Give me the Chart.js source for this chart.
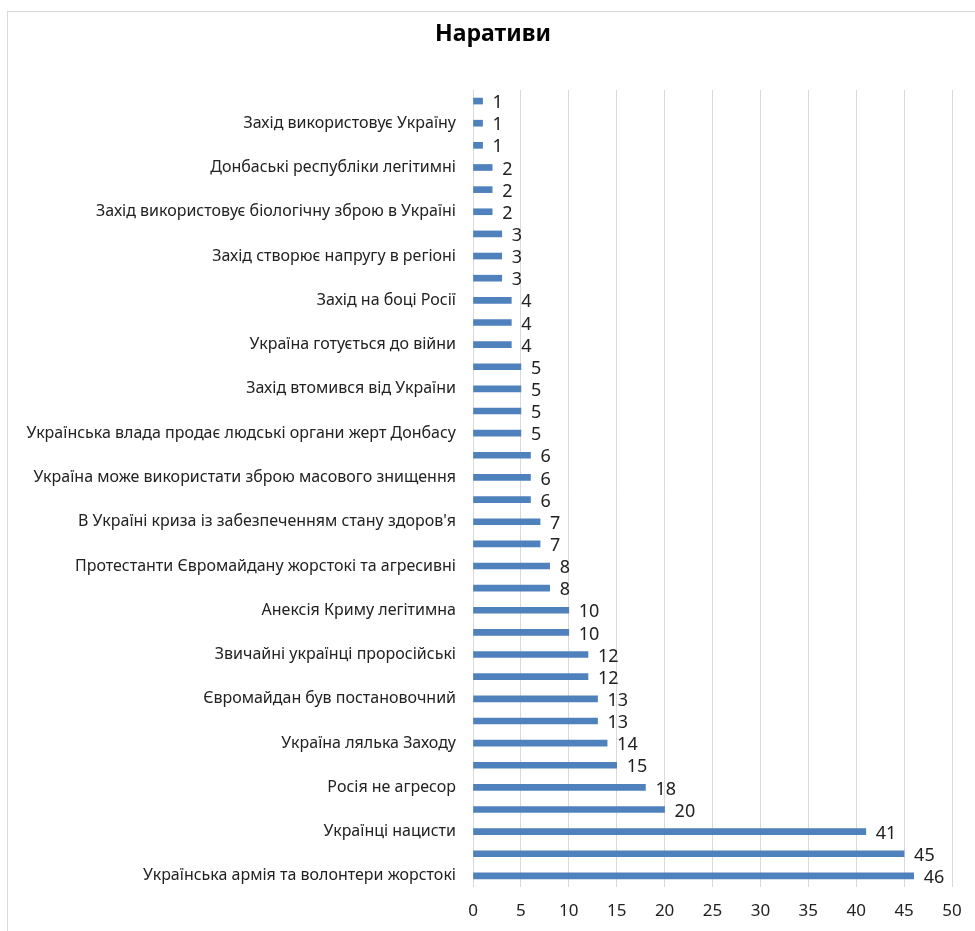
<!DOCTYPE html>
<html>
<head>
<meta charset="utf-8">
<script src="https://cdn.jsdelivr.net/npm/chart.js@4.4.1/dist/chart.umd.min.js"></script>
<style>
  html, body { margin: 0; padding: 0; background: #fff; overflow: hidden; }
  #frame { position: absolute; left: 7px; top: 11px; width: 2000px; height: 2000px; border: 1px solid #d9d9d9; }
  #myChart { position: absolute; left: 0; top: 0; }
</style>
</head>
<body>
<div id="frame"></div>
<canvas id="myChart" width="987" height="931"></canvas>
<script>
// categories top to bottom; empty ones are the labels Excel skipped
const categories = [
    '',
    'Захід використовує Україну',
    '',
    'Донбаські республіки легітимні',
    '',
    'Захід використовує біологічну зброю в Україні',
    '',
    'Захід створює напругу в регіоні',
    '',
    'Захід на боці Росії',
    '',
    'Україна готується до війни',
    '',
    'Захід втомився від України',
    '',
    'Українська влада продає людські органи жерт Донбасу',
    '',
    'Україна може використати зброю масового знищення',
    '',
    "В Україні криза із забезпеченням стану здоров'я",
    '',
    'Протестанти Євромайдану жорстокі та агресивні',
    '',
    'Анексія Криму легітимна',
    '',
    'Звичайні українці проросійські',
    '',
    'Євромайдан був постановочний',
    '',
    'Україна лялька Заходу',
    '',
    'Росія не агресор',
    '',
    'Українці нацисти',
    '',
    'Українська армія та волонтери жорстокі'
];
const counts = [
    1, 1, 1, 2, 2, 2, 3, 3, 3, 4, 4, 4,
    5, 5, 5, 5, 6, 6, 6, 7, 7, 8, 8, 10,
    10, 12, 12, 13, 13, 14, 15, 18, 20, 41, 45, 46
];
const xTicks = [0, 5, 10, 15, 20, 25, 30, 35, 40, 45, 50];
const chartTitle = 'Наративи';

const FONT = '"Noto Sans", "Open Sans", sans-serif';

// value labels to the right of each bar, plus the title
const valueLabels = {
    id: 'valueLabels',
    afterDatasetsDraw(chart) {
        const ctx = chart.ctx;
        ctx.save();
        ctx.font = '18px ' + FONT;
        ctx.fillStyle = '#222';
        ctx.textAlign = 'left';
        ctx.textBaseline = 'middle';
        chart.getDatasetMeta(0).data.forEach((bar, i) => {
            ctx.fillText(String(counts[i]), bar.x + 10, bar.y + 2);
        });
        ctx.font = 'bold 23px ' + FONT;
        ctx.fillStyle = '#000';
        ctx.textAlign = 'center';
        ctx.fillText(chartTitle, 493, 34);
        ctx.restore();
    }
};

new Chart(document.getElementById('myChart'), {
    type: 'bar',
    data: {
        labels: categories,
        datasets: [{
            label: chartTitle,
            data: counts,
            backgroundColor: '#4f81bd',
            barThickness: 6
        }]
    },
    options: {
        indexAxis: 'y',
        responsive: false,
        animation: false,
        devicePixelRatio: 1,
        layout: { padding: { left: 0, right: 35, top: 90, bottom: 0 } },
        plugins: {
            legend: { display: false },
            tooltip: { enabled: false },
            title: { display: false }
        },
        scales: {
            x: {
                min: 0,
                max: 50,
                afterBuildTicks: (scale) => { scale.ticks = xTicks.map(v => ({ value: v })); },
                afterFit: (scale) => { scale.height = 44; },
                grid: { color: '#d9d9d9', drawTicks: false },
                border: { display: false },
                ticks: { color: '#222', padding: 14, font: { family: FONT, size: 17 } }
            },
            y: {
                afterFit: (scale) => { scale.width = 473; },
                grid: { display: false, drawTicks: false },
                border: { display: false },
                ticks: { autoSkip: false, color: '#222', padding: 17, font: { family: FONT, size: 16 } }
            }
        }
    },
    plugins: [valueLabels]
});
</script>
</body>
</html>
